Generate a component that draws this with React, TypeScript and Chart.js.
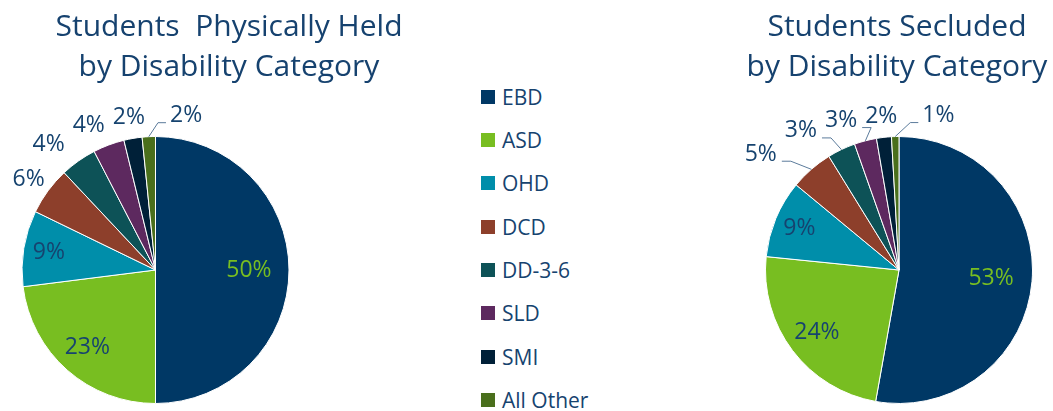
import React, { useEffect, useRef } from 'react';
import { Chart, registerables } from 'chart.js';

Chart.register(...registerables);

const CATEGORIES = ['EBD', 'ASD', 'OHD', 'DCD', 'DD-3-6', 'SLD', 'SMI', 'All Other'];
const HELD_VALUES = [50, 23, 9.2, 5.8, 4.4, 3.8, 2.2, 1.6];
const SECLUDED_VALUES = [52.8, 23.8, 9.4, 5.2, 3.4, 2.7, 1.8, 0.9];
const HELD_TITLE = ['Students  Physically Held', 'by Disability Category'];
const SECLUDED_TITLE = ['Students Secluded', 'by Disability Category'];

const SLICE_COLORS = ['#003865', '#78BE21', '#008EAA', '#8D3F2B', '#0D5257', '#5D295F', '#002038', '#4A6F1C'];
const TEXT_COLOR = '#16436F';
const TITLE_COLOR = '#16426F';
const LEADER_COLOR = '#5B7B9B';
const FONT = "'Open Sans', 'Noto Sans', sans-serif";

const titlePlugin = {
  id: 'pieTitle',
  afterDraw(chart: any, _args: any, opts: any) {
    const ctx = chart.ctx;
    ctx.save();
    ctx.font = `30px ${FONT}`;
    ctx.fillStyle = TITLE_COLOR;
    ctx.textAlign = 'center';
    ctx.textBaseline = 'alphabetic';
    (opts.lines || []).forEach((line: string, i: number) => {
      ctx.fillText(line, opts.centerX, 36 + 40 * i);
    });
    ctx.restore();
  },
};

const labelPlugin = {
  id: 'pieLabels',
  afterDatasetsDraw(chart: any) {
    const ctx = chart.ctx;
    const meta = chart.getDatasetMeta(0);
    const data: number[] = chart.data.datasets[0].data;
    const total = data.reduce((a, b) => a + b, 0);
    ctx.save();
    ctx.font = `23px ${FONT}`;
    ctx.textAlign = 'center';
    ctx.textBaseline = 'middle';
    const outside: any[] = [];
    meta.data.forEach((arc: any, i: number) => {
      const { x, y, startAngle, endAngle, outerRadius } = arc.getProps(
        ['x', 'y', 'startAngle', 'endAngle', 'outerRadius'], true);
      const share = data[i] / total;
      const a = (startAngle + endAngle) / 2;
      const text = Math.round(share * 100) + '%';
      const w = ctx.measureText(text).width;
      if (share >= 0.08) {
        const r = outerRadius * (0.834 - 0.268 * share);
        ctx.fillStyle = i === 0 ? '#78BE21' : TEXT_COLOR;
        ctx.fillText(text, x + r * Math.cos(a), y + r * Math.sin(a));
      } else {
        const r = outerRadius + 24;
        const nx = x + r * Math.cos(a);
        const ny = y + r * Math.sin(a) + 3;
        outside.push({
          text, w, nx, ny, lx: nx, ly: ny,
          ex: x + outerRadius * Math.cos(a), ey: y + outerRadius * Math.sin(a),
        });
      }
    });
    const n = outside.length;
    const overlaps = (p: any, q: any) =>
      Math.abs(p.lx - q.lx) < (p.w + q.w) / 2 + 6 && Math.abs(p.ly - q.ly) < 26;
    if (n >= 2) {
      const anchor = n - 2;
      const last = outside[n - 1];
      if (overlaps(last, outside[anchor])) {
        last.lx = outside[anchor].lx + (outside[anchor].w + last.w) / 2 + 25;
      }
      for (let k = anchor - 1; k >= 0; k--) {
        const p = outside[k];
        const q = outside[k + 1];
        if (overlaps(p, q)) p.lx = q.lx - (p.w + q.w) / 2 - 8;
      }
    }
    ctx.strokeStyle = LEADER_COLOR;
    ctx.lineWidth = 1;
    outside.forEach((p) => {
      if (Math.abs(p.lx - p.nx) > 16) {
        const yLine = p.ly + 7;
        let elbowX: number;
        let endX: number;
        if (p.lx > p.ex) {
          elbowX = p.lx - p.w / 2 - 12;
          endX = p.lx - p.w / 2 - 4;
        } else {
          elbowX = p.lx + p.w / 2 + 14;
          endX = p.lx + p.w / 2 + 5;
        }
        ctx.beginPath();
        ctx.moveTo(p.ex, p.ey);
        ctx.lineTo(elbowX, yLine);
        ctx.lineTo(endX, yLine);
        ctx.stroke();
      }
      ctx.fillStyle = TEXT_COLOR;
      ctx.fillText(p.text, p.lx, p.ly);
    });
    ctx.restore();
  },
};

function PieChart(props: {
  values: number[];
  title: string[];
  left: number;
  width: number;
  padLeft: number;
  padRight: number;
  titleX: number;
}) {
  const ref = useRef<HTMLCanvasElement>(null);
  useEffect(() => {
    if (!ref.current) return;
    const chart = new Chart(ref.current, {
      type: 'pie',
      data: {
        labels: CATEGORIES,
        datasets: [
          {
            data: props.values,
            backgroundColor: SLICE_COLORS,
            borderColor: '#ffffff',
            borderWidth: 1,
          },
        ],
      },
      options: {
        animation: false,
        responsive: false,
        devicePixelRatio: 1,
        layout: { padding: { left: props.padLeft, right: props.padRight, top: 136, bottom: 7 } },
        plugins: {
          legend: { display: false },
          tooltip: { enabled: false },
          title: { display: false },
          pieTitle: { lines: props.title, centerX: props.titleX },
        },
      },
      plugins: [labelPlugin, titlePlugin],
    } as any);
    return () => chart.destroy();
  }, []);
  return (
    <canvas
      ref={ref}
      width={props.width}
      height={411}
      style={{ position: 'absolute', left: props.left, top: 0, width: props.width, height: 411 }}
    />
  );
}

function Legend() {
  return (
    <div style={{ position: 'absolute', left: 481, top: 0 }}>
      {CATEGORIES.map((c, i) => (
        <div
          key={c}
          style={{
            position: 'absolute',
            left: 0,
            top: 96.7 + 43.3 * i - 15,
            height: 30,
            display: 'flex',
            alignItems: 'center',
            whiteSpace: 'nowrap',
          }}
        >
          <div style={{ width: 14, height: 14, background: SLICE_COLORS[i], marginRight: 7 }} />
          <span style={{ fontFamily: FONT, fontSize: 21, color: TEXT_COLOR, lineHeight: '30px' }}>{c}</span>
        </div>
      ))}
    </div>
  );
}

export default function App() {
  return (
    <div style={{ position: 'absolute', left: 0, top: 0, width: 1053, height: 411, background: '#ffffff', overflow: 'hidden' }}>
      <PieChart values={HELD_VALUES} title={HELD_TITLE} left={0} width={458} padLeft={21.5} padRight={168.5} titleX={229} />
      <Legend />
      <PieChart values={SECLUDED_VALUES} title={SECLUDED_TITLE} left={744} width={309} padLeft={21} padRight={20} titleX={153} />
    </div>
  );
}
